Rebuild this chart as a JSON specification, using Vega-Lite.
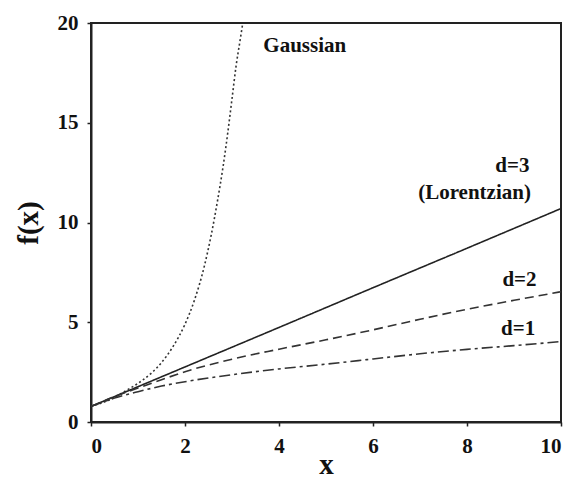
{
  "$schema": "https://vega.github.io/schema/vega-lite/v6.json",
  "autosize": {"type": "none"},
  "width": 470,
  "height": 399,
  "padding": {"left": 91, "top": 23, "right": 13, "bottom": 57},
  "background": "white",
  "config": {
    "view": {"stroke": "#222", "strokeWidth": 2},
    "font": "'Liberation Serif', 'Times New Roman', Times, serif",
    "axis": {
      "grid": false,
      "domainColor": "#222",
      "domainWidth": 2,
      "tickColor": "#222",
      "tickWidth": 1.5,
      "tickSize": 4,
      "labelFont": "'Liberation Serif', 'Times New Roman', Times, serif",
      "labelFontSize": 21,
      "labelFontWeight": "bold",
      "labelColor": "#111",
      "titleFont": "'Liberation Serif', 'Times New Roman', Times, serif",
      "titleFontSize": 29,
      "titleFontWeight": "bold",
      "titleColor": "#111"
    }
  },
  "datasets": {
    "curves": [
      {"series": "Gaussian", "x": 0, "y": 0.78},
      {"series": "Gaussian", "x": 0.4, "y": 1.12},
      {"series": "Gaussian", "x": 0.78, "y": 1.62},
      {"series": "Gaussian", "x": 1.1, "y": 2.1},
      {"series": "Gaussian", "x": 1.49, "y": 2.95},
      {"series": "Gaussian", "x": 1.75, "y": 3.8},
      {"series": "Gaussian", "x": 1.99, "y": 4.85},
      {"series": "Gaussian", "x": 2.2, "y": 6.1},
      {"series": "Gaussian", "x": 2.41, "y": 7.8},
      {"series": "Gaussian", "x": 2.56, "y": 9.4},
      {"series": "Gaussian", "x": 2.70, "y": 11.2},
      {"series": "Gaussian", "x": 2.81, "y": 12.8},
      {"series": "Gaussian", "x": 2.91, "y": 14.5},
      {"series": "Gaussian", "x": 3.0, "y": 16.2},
      {"series": "Gaussian", "x": 3.09, "y": 17.9},
      {"series": "Gaussian", "x": 3.17, "y": 19.1},
      {"series": "Gaussian", "x": 3.23, "y": 20.0},
      {"series": "d3", "x": 0, "y": 0.78},
      {"series": "d3", "x": 2, "y": 2.76},
      {"series": "d3", "x": 4, "y": 4.74},
      {"series": "d3", "x": 6, "y": 6.73},
      {"series": "d3", "x": 8, "y": 8.71},
      {"series": "d3", "x": 10, "y": 10.7},
      {"series": "d2", "x": 0, "y": 0.78},
      {"series": "d2", "x": 0.5, "y": 1.27},
      {"series": "d2", "x": 1, "y": 1.7},
      {"series": "d2", "x": 1.5, "y": 2.12},
      {"series": "d2", "x": 2, "y": 2.52},
      {"series": "d2", "x": 3, "y": 3.15},
      {"series": "d2", "x": 4, "y": 3.65},
      {"series": "d2", "x": 5, "y": 4.12},
      {"series": "d2", "x": 6, "y": 4.62},
      {"series": "d2", "x": 7, "y": 5.15},
      {"series": "d2", "x": 8, "y": 5.65},
      {"series": "d2", "x": 9, "y": 6.1},
      {"series": "d2", "x": 10, "y": 6.53},
      {"series": "d1", "x": 0, "y": 0.78},
      {"series": "d1", "x": 0.5, "y": 1.2},
      {"series": "d1", "x": 1, "y": 1.52},
      {"series": "d1", "x": 1.5, "y": 1.8},
      {"series": "d1", "x": 2, "y": 2.02},
      {"series": "d1", "x": 3, "y": 2.37},
      {"series": "d1", "x": 4, "y": 2.66},
      {"series": "d1", "x": 5, "y": 2.9},
      {"series": "d1", "x": 6, "y": 3.16},
      {"series": "d1", "x": 7, "y": 3.42},
      {"series": "d1", "x": 8, "y": 3.64},
      {"series": "d1", "x": 9, "y": 3.83},
      {"series": "d1", "x": 10, "y": 4.03}
    ],
    "labels": [
      {"label": "Gaussian", "x": 5.43, "y": 18.85},
      {"label": "d=3", "x": 9.33, "y": 12.83},
      {"label": "(Lorentzian)", "x": 9.36, "y": 11.5},
      {"label": "d=2", "x": 9.48, "y": 7.1},
      {"label": "d=1", "x": 9.45, "y": 4.67}
    ]
  },
  "layer": [
    {
      "data": {"name": "curves"},
      "mark": {"type": "line", "clip": true, "strokeWidth": 1.6, "interpolate": "monotone"},
      "encoding": {
        "x": {"field": "x", "type": "quantitative", "scale": {"domain": [0, 10], "nice": false},
              "axis": {"values": [0, 2, 4, 6, 8, 10], "title": "x", "labelPadding": 9, "titlePadding": -6}},
        "y": {"field": "y", "type": "quantitative", "scale": {"domain": [0, 20], "nice": false},
              "axis": {"values": [0, 5, 10, 15, 20], "title": "f(x)", "labelPadding": 9, "titlePadding": 14}},
        "detail": {"field": "series"},
        "color": {"field": "series", "type": "nominal", "legend": null,
                  "scale": {"domain": ["Gaussian", "d3", "d2", "d1"], "range": ["#333", "#222", "#333", "#333"]}},
        "strokeDash": {"field": "series", "type": "nominal", "legend": null,
                       "scale": {"domain": ["Gaussian", "d3", "d2", "d1"], "range": [[2, 2.5], [1, 0], [9, 5], [11, 4, 3, 4]]}}
      }
    },
    {
      "data": {"name": "labels"},
      "mark": {"type": "text", "align": "right", "baseline": "middle", "font": "'Liberation Serif', 'Times New Roman', Times, serif", "fontWeight": "bold", "fontSize": 21, "color": "#111"},
      "encoding": {
        "x": {"field": "x", "type": "quantitative"},
        "y": {"field": "y", "type": "quantitative"},
        "text": {"field": "label"}
      }
    }
  ]
}
